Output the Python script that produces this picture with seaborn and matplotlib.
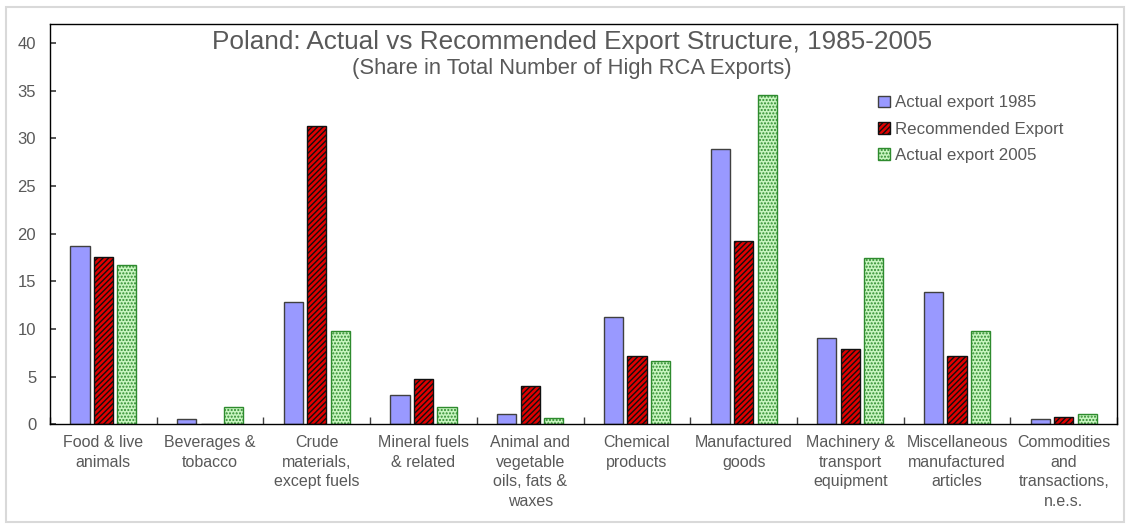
import numpy as np
import pandas as pd
import matplotlib
matplotlib.use("Agg")
import matplotlib.pyplot as plt
import seaborn as sns
from matplotlib.patches import Rectangle, Patch

categories = ["Food & live\nanimals", "Beverages &\ntobacco", "Crude\nmaterials,\nexcept fuels",
              "Mineral fuels\n& related", "Animal and\nvegetable\noils, fats &\nwaxes", "Chemical\nproducts",
              "Manufactured\ngoods", "Machinery &\ntransport\nequipment", "Miscellaneous\nmanufactured\narticles",
              "Commodities\nand\ntransactions,\nn.e.s."]
actual_1985 = [18.7, 0.5, 12.8, 3.1, 1.1, 11.3, 28.9, 9.1, 13.9, 0.5]
recommended = [17.6, 0.0, 31.3, 4.7, 4.0, 7.2, 19.2, 7.9, 7.2, 0.8]
actual_2005 = [16.7, 1.8, 9.8, 1.8, 0.7, 6.6, 34.6, 17.4, 9.8, 1.1]
series_names = ["Actual export 1985", "Recommended Export", "Actual export 2005"]

sns.set_theme(style="white")
plt.rcParams['font.family'] = ['Liberation Sans', 'DejaVu Sans']
grey = "#595959"

rows = []
for s, vals in zip(series_names, [actual_1985, recommended, actual_2005]):
    for c, v in zip(categories, vals):
        rows.append({"cat": c, "series": s, "value": v})
df = pd.DataFrame(rows)

fig = plt.figure(figsize=(11.3, 5.25), dpi=100)
ax = fig.add_axes([0.0443, 0.192, 0.9443, 0.762])

face = {"Actual export 1985": "#9999FF", "Recommended Export": "#E00000", "Actual export 2005": "#C8F5C0"}
edge = {"Actual export 1985": "#404040", "Recommended Export": "#101010", "Actual export 2005": "#2E8B2E"}
hatch = {"Actual export 1985": "", "Recommended Export": "//////", "Actual export 2005": "....."}

sns.barplot(data=df, x="cat", y="value", hue="series", hue_order=series_names,
            order=categories, palette=face, width=0.66, ax=ax, legend=False, saturation=1)

bw = 0.18
for cont, s in zip(ax.containers, series_names):
    for p in cont.patches:
        cx = p.get_x() + p.get_width() / 2
        p.set_x(cx - bw / 2)
        p.set_width(bw)
        p.set_edgecolor(edge[s])
        p.set_linewidth(1.0)
        p.set_hatch(hatch[s])

ax.set_ylim(0, 42)
ax.set_xlim(-0.5, len(categories) - 0.5)
ax.set_yticks(range(0, 41, 5))
ax.set_xticks(np.arange(-0.5, len(categories), 1), minor=True)
ax.set_xticks(range(len(categories)))
ax.set_xticklabels(categories, fontsize=11.5, color=grey, linespacing=1.38)
ax.tick_params(axis='x', which='major', length=0, pad=8)
ax.tick_params(axis='x', which='minor', direction='in', length=5, color='#404040', bottom=True)
ax.tick_params(axis='y', direction='in', length=4, color='#404040', labelsize=12, labelcolor=grey, left=True, pad=10)
ax.set_xlabel("")
ax.set_ylabel("")
for sp in ax.spines.values():
    sp.set_color("black")
    sp.set_linewidth(1.0)

ax.text(0.489, 0.985, "Poland: Actual vs Recommended Export Structure, 1985-2005", transform=ax.transAxes,
        ha="center", va="top", fontsize=18.8, color=grey)
ax.text(0.489, 0.915, "(Share in Total Number of High RCA Exports)", transform=ax.transAxes,
        ha="center", va="top", fontsize=15.8, color=grey)

handles = [Patch(facecolor=face[s], edgecolor=edge[s], hatch=hatch[s], label=s) for s in series_names]
leg = ax.legend(handles=handles, loc="upper left", bbox_to_anchor=(0.762, 0.86), frameon=False,
                fontsize=12.2, handlelength=0.7, handleheight=0.7, handletextpad=0.25, labelspacing=0.66)
for t in leg.get_texts():
    t.set_color(grey)

fig.patches.append(Rectangle((0.005, 0.005), 0.99, 0.982, transform=fig.transFigure,
                             fill=False, edgecolor="#d9d9d9", linewidth=1.5))

fig.savefig("out.png", dpi=100)
